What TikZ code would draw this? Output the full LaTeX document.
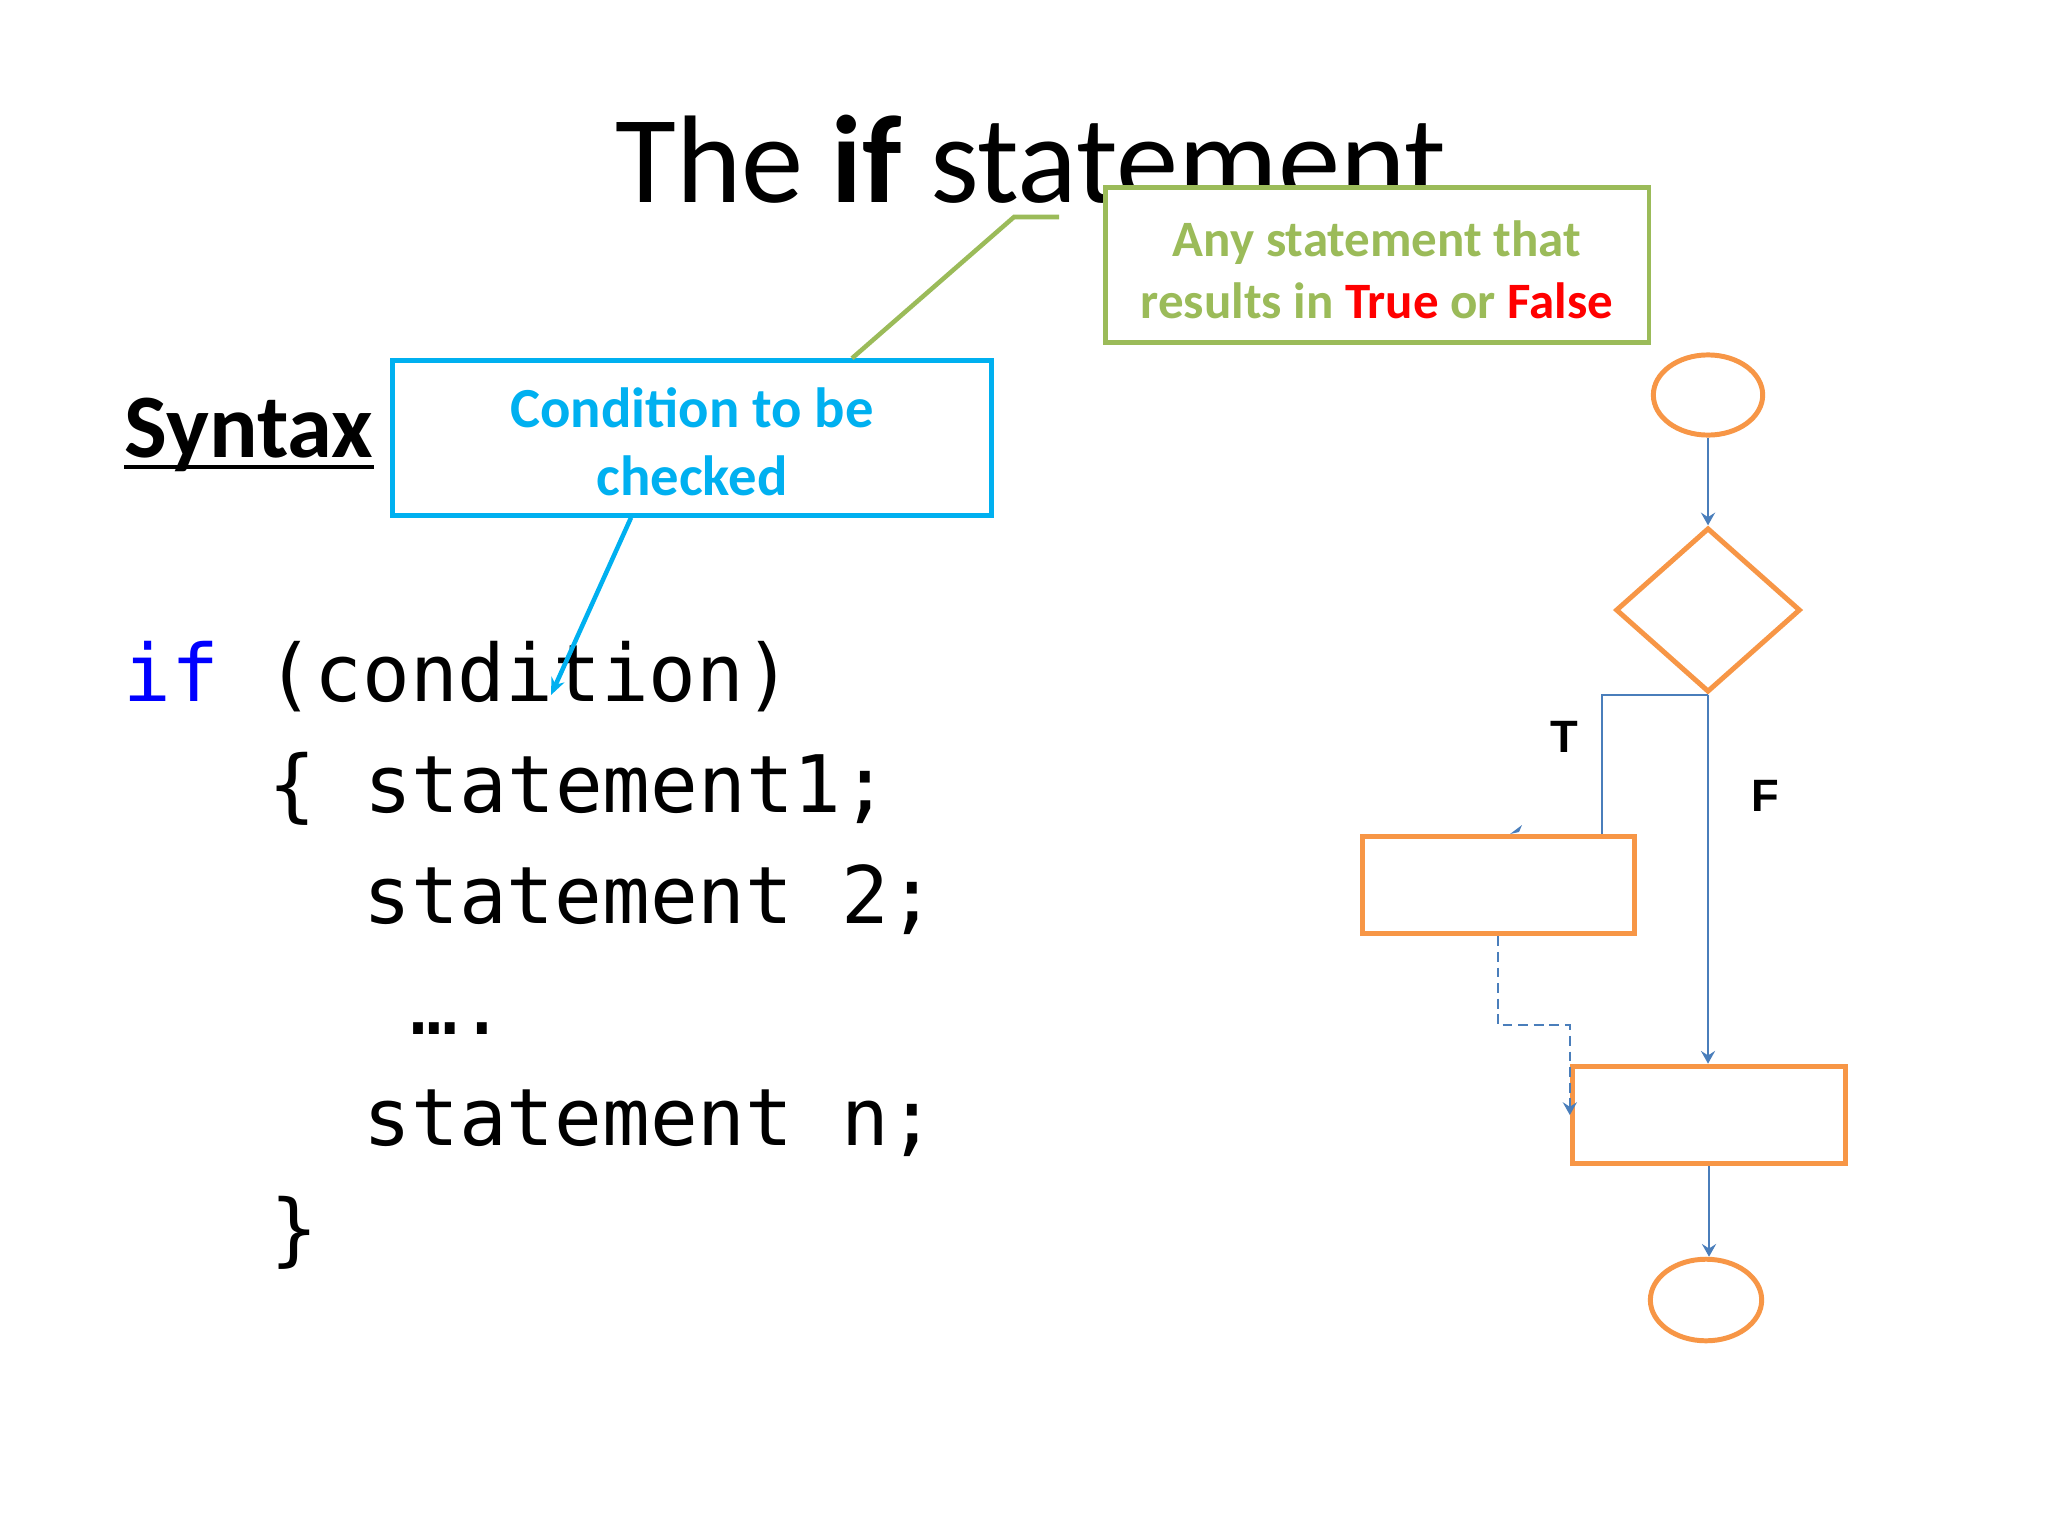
\documentclass[tikz,border=0pt]{standalone}
\usepackage{fontspec}
\setmainfont{Carlito}
\newfontfamily\codefont{DejaVu Sans Mono}
\newfontfamily\lblfont{Liberation Sans}
\usetikzlibrary{shapes.geometric,arrows.meta,calc}
\definecolor{orng}{HTML}{F79646}
\definecolor{grn}{HTML}{9BBB59}
\definecolor{cyn}{HTML}{00B0F0}
\definecolor{conblue}{HTML}{4A7EBB}
\definecolor{kwblue}{HTML}{0000FF}
\definecolor{redtxt}{HTML}{FF0000}
\begin{document}
\begin{tikzpicture}[x=0.0124023cm,y=-0.0124023cm,
  flow/.style={draw=orng,line width=1.75pt,inner sep=0pt},
  conn/.style={draw=conblue,line width=0.75pt},
  arr/.style={conn,-{Stealth[length=4.5pt,width=5pt,inset=1.6pt]}},
  codeline/.style={anchor=base west,inner sep=0pt,font={\codefont\fontsize{28}{34}\selectfont}},
  lbl/.style={inner sep=0pt,font={\lblfont\bfseries\fontsize{16}{19}\selectfont}}]
\useasboundingbox (0,0) rectangle (2048,1536);
\fill[white] (0,0) rectangle (2048,1536);

% title
\node (title) [anchor=base, inner sep=0pt, font={\fontsize{44}{53}\selectfont}] at (1031,203) {The \textbf{if} statement};

% syntax heading
\node (syn) [anchor=base west, inner sep=0pt, font={\bfseries\fontsize{32}{38}\selectfont}] at (124,457) {Syntax};
\draw[line width=1.4pt] ($(syn.base west)+(0,10)$) -- ($(syn.base east)+(0,10)$);

% code
\node (c1) [codeline] at (123,701) {\textcolor{kwblue}{if} (condition)};
\node (c2) [codeline] at (268,812) {\{ statement1;};
\node (c3) [codeline] at (363,923) {statement 2;};
\node (c4) [codeline] at (410,1034) {….};
\node (c5) [codeline] at (363,1145) {statement n;};
\node (c6) [codeline] at (270,1256) {\}};

% callout boxes
\node (cond) [draw=cyn, line width=1.65pt, fill=white, minimum width=211.5pt, minimum height=54.6pt] at (692,438) {};
\node (condtxt) [align=center, text=cyn, inner sep=0pt, font={\bfseries\fontsize{20}{24}\selectfont}] at ($(cond.center)+(0,4)$) {Condition to be\\checked};
\node (anyst) [draw=grn, line width=1.75pt, fill=white, minimum width=192pt, minimum height=55pt] at (1377,265) {};
\node (anytxt) [align=center, text=grn, inner sep=0pt, font={\bfseries\fontsize{18}{21.8}\selectfont}] at ($(anyst.center)+(0,5)$) {Any statement that\\results in \textcolor{redtxt}{True} or \textcolor{redtxt}{False}};

\coordinate (gs) at (852,0);
\coordinate (gk) at (1014,217);
\coordinate (ge) at (1059,217);
\draw[grn, line width=1.6pt] (cond.north -| gs) -- (gk) -- (ge);

\coordinate (cs) at (631,0);
\coordinate (ctip) at (551,695);
\draw[cyn, line width=1.6pt, -{Stealth[length=6pt,width=5pt,inset=2pt]}] (cond.south -| cs) -- (ctip);

% flowchart
\node (st) [flow, ellipse, minimum width=38.6pt, minimum height=28.3pt] at (1708,395) {};
\node (dia) [flow, diamond, minimum width=65.2pt, minimum height=58pt] at (1708,610) {};
\node (tb) [flow, rectangle, minimum width=96pt, minimum height=34.5pt] at (1498,885) {};
\node (jb) [flow, rectangle, minimum width=96.5pt, minimum height=34.5pt] at (1709,1115) {};
\node (en) [flow, ellipse, minimum width=39.3pt, minimum height=28.8pt] at (1706,1300) {};

\draw[arr] (st.south) -- (dia.north);
\coordinate (tx) at (1602,0);
\draw[conn] (dia.south) -| (tx |- tb.north);
\draw[arr] (dia.south) -- (dia.south |- jb.north);
\draw[arr, dash pattern=on 3.5pt off 2pt] (tb.south) -- ++(0,89) -| (jb.west);
\draw[arr] (jb.south) -- (jb.south |- en.north);
\fill[conblue] (1510,834) -- (1522,825) -- (1519,832) -- cycle;

\node (lt) [lbl] at (1564,737) {T};
\node (lf) [lbl] at (1765,796) {F};
\end{tikzpicture}
\end{document}
